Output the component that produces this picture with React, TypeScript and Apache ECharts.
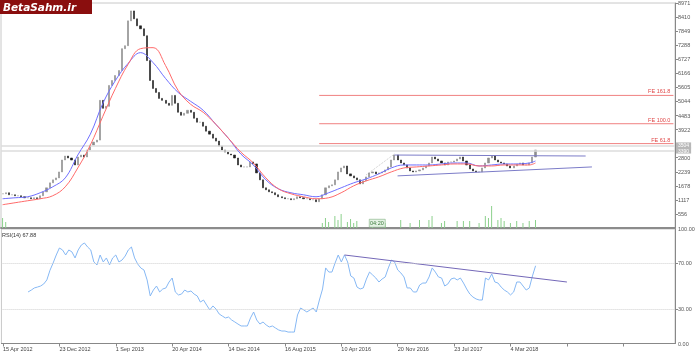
import React, { useEffect, useRef } from 'react';
import * as echarts from 'echarts';

// x-axis tick labels, one every 18 bi-weekly bars
const tickLabels = ['15 Apr 2012', '23 Dec 2012', '1 Sep 2013', '20 Apr 2014', '14 Dec 2014', '16 Aug 2015', '10 Apr 2016', '20 Nov 2016', '23 Jul 2017', '4 Mar 2018'];
const BARS_PER_LABEL = 18;
const TOTAL_SLOTS = 215;
// price-axis tick hidden behind the current-price boxes
const hiddenPriceTicks = [3361];

// bi-weekly closes (price)
const closes = [
  1360, 1400, 1320, 1320, 1281, 1281, 1241, 1201, 1201, 1162, 1201, 1162, 1281, 1439, 1598, 1796, 1915, 1994, 2232, 2708,
  2867, 2787, 2708, 2510, 2827, 2906, 2827, 3105, 3303, 3422, 3501, 5087, 4770, 4849, 5682, 5880, 6078, 6277, 7149, 7268,
  8259, 8656, 8339, 8061, 7942, 7665, 6673, 5880, 5563, 5404, 5166, 5087, 4968, 4889, 5285, 4968, 4611, 4492, 4572, 4691,
  4611, 4373, 4215, 4215, 4056, 3858, 3739, 3580, 3461, 3263, 3105, 3025, 2946, 2906, 2787, 2510, 2431, 2431, 2431, 2629,
  2550, 2193, 1915, 1598, 1519, 1439, 1400, 1320, 1241, 1201, 1162, 1162, 1122, 1162, 1241, 1201, 1162, 1162, 1122, 1122,
  1043, 1162, 1320, 1598, 1677, 1717, 1915, 2232, 2391, 2470, 2153, 2074, 1994, 1915, 1756, 1875, 2034, 2193, 2232, 2153,
  2193, 2232, 2312, 2431, 2708, 2906, 2708, 2589, 2510, 2391, 2272, 2232, 2272, 2312, 2391, 2470, 2589, 2827, 2748, 2668,
  2589, 2510, 2629, 2629, 2668, 2748, 2827, 2668, 2510, 2351, 2272, 2232, 2232, 2391, 2589, 2787, 2867, 2708, 2629, 2589,
  2550, 2470, 2391, 2470, 2550, 2589, 2510, 2510, 2589, 2827, 3105
];

// volume (relative units)
const volIndex = [0, 1, 102, 103, 104, 106, 107, 108, 110, 111, 112, 113, 118, 122, 127, 130, 133, 136, 137, 140, 141, 145, 147, 149, 152, 154, 155, 156, 158, 159, 160, 162, 164, 166, 168, 170];
const volValue = [10, 6, 5, 10, 6, 12, 8, 14, 6, 9, 5, 7, 7, 5, 8, 5, 8, 8, 12, 5, 7, 7, 7, 7, 5, 12, 10, 22, 8, 10, 7, 5, 7, 5, 7, 8];

// moving averages sampled every 4 bars
const maIndex = [0, 4, 8, 12, 16, 20, 24, 28, 32, 36, 40, 44, 48, 52, 56, 60, 64, 68, 72, 76, 80, 84, 88, 92, 96, 100, 104, 108, 112, 116, 120, 124, 128, 132, 136, 140, 144, 148, 152, 156, 160, 164, 168, 170];
const maBlue = [1162, 1201, 1241, 1400, 1638, 1994, 2906, 3739, 4968, 5880, 6554, 6990, 6594, 5959, 5404, 5047, 4691, 4135, 3580, 2946, 2510, 1915, 1558, 1400, 1320, 1241, 1400, 1598, 1796, 1955, 2153, 2391, 2510, 2510, 2510, 2550, 2589, 2589, 2470, 2510, 2550, 2550, 2589, 2668];
const maRed = [924, 1003, 1082, 1162, 1281, 1638, 2391, 3303, 4453, 5563, 6515, 7149, 7189, 6475, 5483, 4929, 4611, 4135, 3580, 3025, 2589, 1994, 1558, 1360, 1241, 1162, 1201, 1400, 1677, 1875, 2034, 2232, 2391, 2431, 2470, 2510, 2550, 2550, 2470, 2470, 2510, 2510, 2510, 2589];

// RSI(14), bi-weekly
const rsi = [
  null, null, null, null, null, null, null, null, 45, 46.6, 48.5, 49.3, 50.2, 52, 55.5, 64, 70.3, 77.3, 83.4, 81.7,
  77.3, 81.7, 80, 74.7, 81.7, 86, 87.8, 84.3, 81.7, 71.2, 68.6, 77.3, 71.2, 74.7, 68.6, 74.7, 77.3, 71.2, 72.9, 76.4,
  81.7, 84.3, 74.7, 69.4, 65.9, 64.2, 55.5, 41.5, 46.7, 50.2, 45, 47.6, 48.5, 53.7, 57.2, 45, 42.4, 43.2, 46.7, 45,
  45.9, 43.2, 41.5, 36.2, 38, 33.6, 29.3, 32.8, 30.1, 25.8, 24, 22.3, 23.1, 20.5, 18.8, 17, 15.3, 15.3, 15.3, 22.3,
  27.5, 20.5, 17, 18.8, 16.2, 14.4, 15.3, 13.5, 11.8, 10.9, 10.9, 10, 10, 10, 24.9, 31, 29.3, 27.5, 29.3, 31,
  27.5, 38, 47.6, 66, 62.4, 62.4, 70.3, 77.3, 71.2, 77.3, 71.2, 59, 57.2, 49.3, 47.6, 48.5, 56.3, 62.4, 59.8, 57.2,
  53.7, 56.3, 58.1, 66, 72.9, 71.2, 64.2, 61.6, 58.1, 48.5, 48.5, 45, 45, 51.1, 52.8, 52.8, 58.1, 66, 62.4, 58.1,
  57.2, 50.2, 52, 56.3, 57.2, 55.5, 57.2, 52.8, 47.6, 43.2, 40.6, 38.9, 38, 38, 57.2, 55.5, 60.7, 53.7, 52.8, 49.3,
  46.7, 45, 42.4, 45, 53.7, 53.7, 50.2, 46.7, 48.5, 59, 67.88
];

// drawn studies
const channelUpper = [[125, 2906], [186, 2867]];
const channelLower = [[126, 2074], [188, 2431]];
const guideDotted = [[116, 2113], [125, 2946]];
const rsiTrend = [[109, 77.3], [180, 53.7]];
const feNames = ['FE 161.8', 'FE 100.0', 'FE 61.8'];
const feValues = [5285, 4155, 3362];
const feStart = 101;
const feEnd = 214;
const waveNames = ['a', 'b', 'c', 'd', 'e'];
const waveIndex = [133, 137, 152, 156, 163];
const waveValue = [1796, 3105, 1955, 3144, 2034];
const priceLineValues = [3290, 3085];
const priceLineLabels = ['3504', '3390'];

const FONT = 'Liberation Sans, Arial, sans-serif';

export default function App() {
  const ref = useRef<HTMLDivElement>(null);
  useEffect(() => {
    if (!ref.current) return;
    const chart = echarts.init(ref.current, null, { renderer: 'svg' });
    const categories = Array.from({ length: TOTAL_SLOTS }, (_, i) =>
      i % BARS_PER_LABEL === 0 && tickLabels[i / BARS_PER_LABEL] ? tickLabels[i / BARS_PER_LABEL] : '#' + i
    );
    const candles = closes.map((c, i) => {
      const o = i > 0 ? closes[i - 1] : c;
      return [o, c, Math.min(o, c), Math.max(o, c)];
    });
    const volume: (number | null)[] = closes.map(() => null);
    volIndex.forEach((idx, k) => { volume[idx] = volValue[k]; });

    const priceMarks = priceLineValues.map((v, k) => ({
      yAxis: v,
      label: {
        show: true, position: 'end', formatter: priceLineLabels[k], backgroundColor: '#b8b8b8', color: '#fff',
        padding: [0, 2], fontSize: 5, lineHeight: 6, fontFamily: FONT, distance: 1,
      },
    }));

    const feSeries = feValues.map((v, k) => ({
      type: 'line', xAxisIndex: 0, yAxisIndex: 0, symbol: 'none', z: 3,
      data: [[feStart, v], [feEnd, v]],
      lineStyle: { color: '#f08080', width: 1 },
      markPoint: {
        symbol: 'rect', symbolSize: 0.01, silent: true,
        data: [{
          coord: [feEnd, v],
          label: {
            show: true, formatter: feNames[k], color: '#e04848', fontSize: 5.5, fontFamily: FONT,
            position: 'left', offset: [2, -4], align: 'right',
          },
        }],
      },
    }));

    const option: any = {
      animation: false,
      textStyle: { fontFamily: FONT },
      grid: [
        { left: 1, right: 25, top: 2, height: 226, show: true, borderColor: '#c8c8c8', borderWidth: 1 },
        { left: 1, right: 25, top: 229, height: 114.5, show: true, borderColor: '#c8c8c8', borderWidth: 1 },
      ],
      xAxis: [
        {
          type: 'category', gridIndex: 0, data: categories, boundaryGap: true,
          axisLine: { show: true, lineStyle: { color: '#8c8c8c', width: 2 } },
          axisTick: { show: false }, axisLabel: { show: false }, splitLine: { show: false },
        },
        {
          type: 'category', gridIndex: 1, data: categories, boundaryGap: true,
          axisLine: { show: true, lineStyle: { color: '#888', width: 1 } },
          axisTick: { show: true, interval: BARS_PER_LABEL - 1, alignWithLabel: true, length: 3, lineStyle: { color: '#888' } },
          axisLabel: {
            show: true, interval: BARS_PER_LABEL - 1, align: 'left', margin: 2, fontSize: 5.5, color: '#444', fontFamily: FONT,
            formatter: (v: string) => (v.startsWith('#') ? '' : v),
          },
          splitLine: { show: false },
        },
      ],
      yAxis: [
        {
          type: 'value', gridIndex: 0, position: 'right', min: -5, max: 8971, interval: 561,
          axisLine: { show: true, lineStyle: { color: '#888' } },
          axisTick: { show: true, length: 3, lineStyle: { color: '#888' } },
          axisLabel: {
            show: true, showMinLabel: false, fontSize: 5.5, color: '#555', margin: 3, fontFamily: FONT,
            formatter: (v: number) => (hiddenPriceTicks.includes(Math.round(v)) ? '' : String(Math.round(v))),
          },
          splitLine: { show: false },
        },
        { type: 'value', gridIndex: 0, min: 0, max: 226, show: false },
        {
          type: 'value', gridIndex: 1, position: 'right', min: 0, max: 100,
          axisLine: { show: true, lineStyle: { color: '#888' } },
          axisTick: { show: true, length: 3, customValues: [30, 70], lineStyle: { color: '#888' } },
          axisLabel: {
            show: true, customValues: [0, 30, 70, 100], fontSize: 5.5, color: '#555', margin: 3, fontFamily: FONT,
            formatter: (v: number) => v.toFixed(2),
          },
          splitLine: { show: false },
        },
      ],
      series: [
        {
          type: 'bar', xAxisIndex: 0, yAxisIndex: 1, data: volume, barWidth: 1,
          itemStyle: { color: '#8cd08c' }, silent: true,
        },
        {
          type: 'line', xAxisIndex: 0, yAxisIndex: 0, data: [], symbol: 'none',
          markLine: {
            symbol: ['none', 'none'], silent: true,
            lineStyle: { color: '#dcdcdc', width: 1.5, type: 'solid' },
            data: priceMarks,
          },
        },
        ...feSeries,
        {
          type: 'candlestick', xAxisIndex: 0, yAxisIndex: 0, data: candles, barWidth: 1.6, z: 4,
          itemStyle: { color: '#8e8e8e', color0: '#1e1e1e', borderColor: '#8e8e8e', borderColor0: '#1e1e1e', borderWidth: 0.6 },
        },
        {
          type: 'line', xAxisIndex: 0, yAxisIndex: 0, data: maIndex.map((x, k) => [x, maBlue[k]]), z: 5,
          smooth: 0.4, showSymbol: false, lineStyle: { color: '#6f6fff', width: 1 },
        },
        {
          type: 'line', xAxisIndex: 0, yAxisIndex: 0, data: maIndex.map((x, k) => [x, maRed[k]]), z: 5,
          smooth: 0.4, showSymbol: false, lineStyle: { color: '#ff6a6a', width: 1 },
        },
        {
          type: 'line', xAxisIndex: 0, yAxisIndex: 0, data: channelUpper, showSymbol: false, z: 5,
          lineStyle: { color: '#7c7cc8', width: 1 },
        },
        {
          type: 'line', xAxisIndex: 0, yAxisIndex: 0, data: channelLower, showSymbol: false, z: 5,
          lineStyle: { color: '#7c7cc8', width: 1 },
        },
        {
          type: 'line', xAxisIndex: 0, yAxisIndex: 0, data: guideDotted, showSymbol: false,
          lineStyle: { color: '#c8c8c8', width: 1, type: 'dotted' },
        },
        {
          type: 'scatter', xAxisIndex: 0, yAxisIndex: 0, symbolSize: 1, itemStyle: { opacity: 0 },
          data: waveNames.map((n, k) => ({ name: n, value: [waveIndex[k], waveValue[k]] })),
          label: { show: true, position: 'inside', formatter: '{b}', color: '#e05050', fontSize: 6, fontFamily: FONT },
        },
        {
          type: 'line', xAxisIndex: 1, yAxisIndex: 2, data: rsi, showSymbol: false,
          lineStyle: { color: '#86b8f4', width: 1 },
          markLine: {
            symbol: ['none', 'none'], silent: true, label: { show: false },
            lineStyle: { color: '#d0d0d0', type: 'dotted', width: 1 },
            data: [{ yAxis: 30 }, { yAxis: 70 }],
          },
        },
        {
          type: 'line', xAxisIndex: 1, yAxisIndex: 2, data: rsiTrend, showSymbol: false,
          lineStyle: { color: '#7468b8', width: 1 },
        },
      ],
      graphic: [
        { type: 'rect', left: 0, top: 0, shape: { width: 92, height: 14 }, style: { fill: '#8a0e0e' }, z: 100 },
        {
          type: 'text', left: 3, top: 1, z: 101,
          style: { text: 'BetaSahm.ir', fill: '#fff', font: 'italic bold 10.5px "DejaVu Sans"' },
        },
        {
          type: 'text', left: 2, top: 232, z: 101,
          style: { text: 'RSI(14) 67.88', fill: '#333', font: '5.5px "Liberation Sans"' },
        },
        { type: 'rect', left: 369, top: 219, shape: { width: 16, height: 8 }, style: { fill: '#e4f2e4', stroke: '#6aa06a', lineWidth: 0.5 }, z: 100 },
        {
          type: 'text', left: 370, top: 220, z: 101,
          style: { text: '04:20', fill: '#3a7a3a', font: '5.5px "Liberation Sans"' },
        },
      ],
    };
    chart.setOption(option);
    return () => chart.dispose();
  }, []);
  return <div ref={ref} style={{ position: 'fixed', left: 0, top: 0, width: 700, height: 354 }} />;
}
